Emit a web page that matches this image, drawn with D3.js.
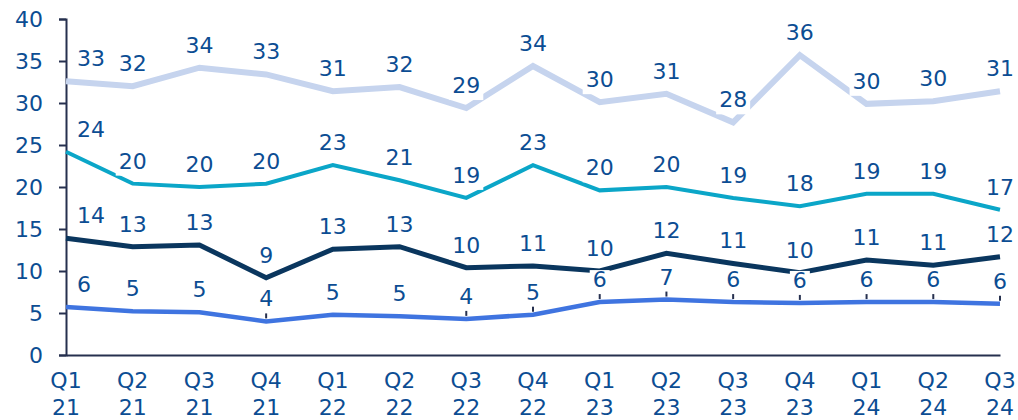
<!DOCTYPE html>
<html>
<head>
<meta charset="utf-8">
<script src="https://cdn.jsdelivr.net/npm/d3@7"></script>
<style>
html,body{margin:0;padding:0;background:#fff;}
svg{display:block;font-family:"DejaVu Sans",Verdana,sans-serif;}
</style>
</head>
<body>
<svg id="chart" width="1018" height="420"></svg>
<script>
const quarters = ["Q1","Q2","Q3","Q4","Q1","Q2","Q3","Q4","Q1","Q2","Q3","Q4","Q1","Q2","Q3"];
const years    = ["21","21","21","21","22","22","22","22","23","23","23","23","24","24","24"];
const seriesTop   = [32.6,32.0,34.2,33.4,31.4,31.9,29.4,34.4,30.1,31.1,27.7,35.7,29.9,30.2,31.4];
const seriesTeal  = [24.2,20.4,20.0,20.4,22.6,20.8,18.7,22.6,19.6,20.0,18.7,17.7,19.2,19.2,17.3];
const seriesNavy  = [13.9,12.9,13.1,9.2,12.6,12.9,10.4,10.6,10.0,12.1,10.9,9.8,11.3,10.7,11.7];
const seriesBlue  = [5.7,5.2,5.1,4.0,4.8,4.6,4.3,4.8,6.3,6.6,6.3,6.2,6.3,6.3,6.1];
const blueLeader  = [false,false,false,true,false,false,true,true,true,true,true,true,true,true,true];
const yTicks = [0,5,10,15,20,25,30,35,40];

const series = [
  {values: seriesTop,  color: "#c6d4ee", width: 6},
  {values: seriesTeal, color: "#0ba6c8", width: 4},
  {values: seriesNavy, color: "#0a365e", width: 5},
  {values: seriesBlue, color: "#3f74e0", width: 4.5}
];

const labelColor = "#0c4d93";
const axisColor = "#26304f";
const svg = d3.select("#chart");
const m = {left: 66, right: 18, top: 19, bottom: 65};
const W = 1018, H = 420;
const idx = d3.range(quarters.length);
const x = d3.scalePoint().domain(idx).range([m.left, W - m.right]).padding(0);
const y = d3.scaleLinear().domain([0, 40]).range([H - m.bottom, m.top]);

// Y axis
const yAxis = svg.append("g").attr("transform", `translate(${m.left},0)`)
  .call(d3.axisLeft(y).tickValues(yTicks).tickSize(7).tickPadding(16));
yAxis.select(".domain").attr("stroke", axisColor).attr("stroke-width", 2);
yAxis.selectAll(".tick line").attr("stroke", axisColor).attr("stroke-width", 2);
yAxis.selectAll(".tick text").attr("fill", labelColor).attr("font-size", 22)
  .attr("font-family", '"DejaVu Sans",Verdana,sans-serif');

// X axis
const xAxis = svg.append("g").attr("transform", `translate(0,${y(0)})`)
  .call(d3.axisBottom(x).tickSize(0).tickFormat(""));
xAxis.select(".domain").attr("stroke", axisColor).attr("stroke-width", 2);
const xl = svg.append("g");
idx.forEach(i => {
  const t = xl.append("text").attr("x", x(i)).attr("text-anchor", "middle")
    .attr("fill", labelColor).attr("font-size", 22);
  t.append("tspan").attr("x", x(i)).attr("y", 388).text(quarters[i]);
  t.append("tspan").attr("x", x(i)).attr("y", 415).text(years[i]);
});

// Lines
const line = d3.line().x((d, i) => x(i)).y(d => y(d));
series.forEach(s => {
  svg.append("path").datum(s.values).attr("d", line)
    .attr("fill", "none").attr("stroke", s.color).attr("stroke-width", s.width)
    .attr("stroke-linejoin", "miter");
});

// Leader lines for blue labels
svg.append("g").selectAll("line").data(idx.filter(i => blueLeader[i])).join("line")
  .attr("x1", i => x(i)).attr("x2", i => x(i))
  .attr("y1", i => y(seriesBlue[i]) - 3).attr("y2", i => y(seriesBlue[i]) - 12)
  .attr("stroke", axisColor).attr("stroke-width", 2);

// Data labels
const lg = svg.append("g");
const fmt = d3.format(".0f");
series.forEach(s => {
  s.values.forEach((v, i) => {
    const g = lg.append("g");
    const first = i === 0;
    const tx = first ? x(i) + 11 : x(i);
    const t = g.append("text").attr("x", tx).attr("y", y(v) - 15)
      .attr("text-anchor", first ? "start" : "middle")
      .attr("fill", labelColor).attr("font-size", 22).text(fmt(v));
    const bb = t.node().getBBox();
    g.insert("rect", "text").attr("x", bb.x - 3).attr("y", bb.y + 3)
      .attr("width", bb.width + 6).attr("height", bb.height - 1).attr("fill", "#fff");
  });
});
</script>
</body>
</html>
